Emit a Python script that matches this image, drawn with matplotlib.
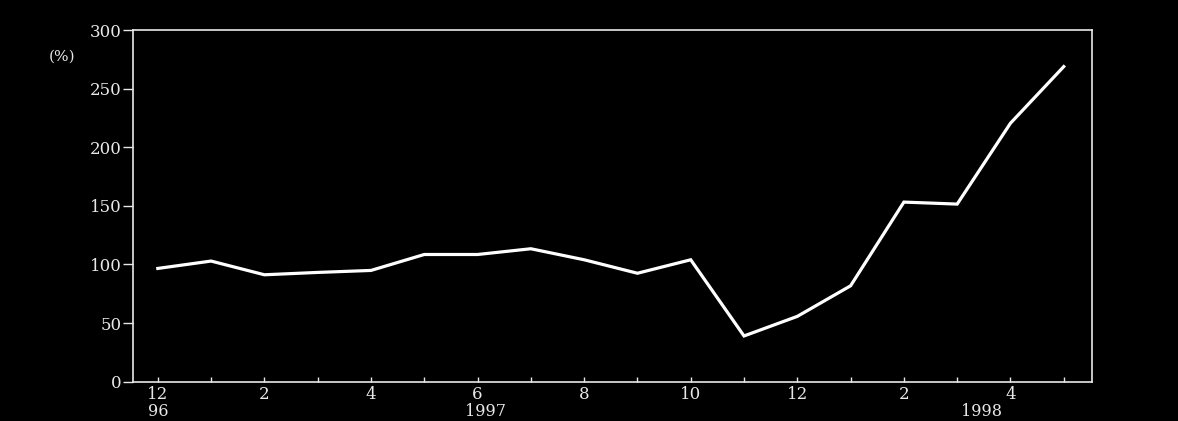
import numpy as np
import matplotlib
matplotlib.use("Agg")
import matplotlib.pyplot as plt

# monthly series, Dec 1996 .. May 1998
months = ["12", "1", "2", "3", "4", "5", "6", "7", "8", "9", "10", "11",
          "12", "1", "2", "3", "4", "5"]
values = [96.6, 102.9, 91.2, 93.2, 94.9, 108.5, 108.5, 113.4, 104.0, 92.5,
          104.0, 39.0, 55.7, 81.8, 153.2, 151.5, 220.5, 268.8]
year_labels = ["96", "1997", "1998"]
year_pos = [0, 6.15, 15.45]
y_ticks = [0, 50, 100, 150, 200, 250, 300]

fg = "#e8e8e8"
plt.rcParams["font.family"] = ["DejaVu Serif"]

fig = plt.figure(figsize=(11.78, 4.21), dpi=100, facecolor="black")
ax = fig.add_axes([0.1127, 0.0934, 0.8143, 0.8353], facecolor="black")

x = np.arange(len(values))
ax.plot(x, values, color="white", lw=2.3, solid_joinstyle="miter")

ax.set_xlim(-0.47, len(values) - 1 + 0.53)
ax.set_ylim(0, 300)

for s in ax.spines.values():
    s.set_color(fg)
    s.set_linewidth(1.2)

ax.set_yticks(y_ticks)
ax.set_yticklabels([str(v) for v in y_ticks])
ax.tick_params(axis="y", direction="out", length=7, width=1, color=fg,
               labelcolor=fg, labelsize=12, pad=1)

ax.set_xticks(x)
ax.set_xticklabels([m if i % 2 == 0 else "" for i, m in enumerate(months)])
ax.tick_params(axis="x", direction="in", length=3.5, width=1, color=fg,
               labelcolor=fg, labelsize=12, pad=3)

for lab, p in zip(year_labels, year_pos):
    ax.text(p, -0.085, lab, transform=ax.get_xaxis_transform(), ha="center",
            va="center", color=fg, fontsize=11.5, clip_on=False)

fig.text(62 / 1178, 1 - 57 / 421, "(%)", ha="center", va="center",
         color=fg, fontsize=11)

fig.savefig("out.png", dpi=100, facecolor="black")
